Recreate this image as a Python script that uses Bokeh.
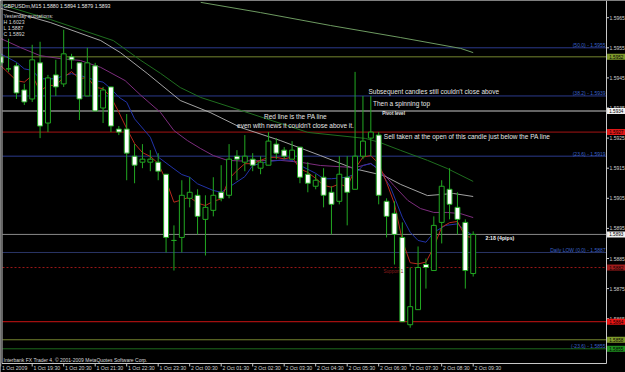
from bokeh.plotting import figure
from bokeh.models import Range1d
from bokeh.embed import file_html
from bokeh.resources import INLINE
from bokeh.core.properties import value

# ---------------- data ----------------
header_text = "GBPUSDm,M15  1.5880 1.5894 1.5879 1.5893"
yesterday_lines = ["Yesterday quotations:", "H 1.6023", "L 1.5887", "C 1.5892"]

# M15 bars, 1 Oct 18:30 .. 2 Oct 09:30
bar_open = [1.5952, 1.5948, 1.5949, 1.5941, 1.5938, 1.5950, 1.5930, 1.5946, 1.5943, 1.5952,
            1.5950, 1.5939, 1.5949, 1.5935, 1.5942, 1.5928, 1.5928, 1.5919, 1.5917, 1.5917,
            1.5917, 1.5913, 1.5891, 1.5892, 1.5905, 1.5906, 1.5898, 1.5901, 1.5907, 1.5906,
            1.5919, 1.5917, 1.5918, 1.5915, 1.5916, 1.5923, 1.5921, 1.5918, 1.5922, 1.5913,
            1.5909, 1.5912, 1.5907, 1.5904, 1.5912, 1.5908, 1.5919, 1.5925, 1.5926, 1.5904,
            1.5900, 1.5892, 1.5863, 1.5868, 1.5883, 1.5881, 1.5897, 1.5908, 1.5902, 1.5897,
            1.5880]
bar_high = [1.5953, 1.5958, 1.5950, 1.5943, 1.5956, 1.5957, 1.5946, 1.5951, 1.5961, 1.5953,
            1.5950, 1.5955, 1.5950, 1.5942, 1.5942, 1.5929, 1.5933, 1.5923, 1.5923, 1.5921,
            1.5920, 1.5913, 1.5896, 1.5911, 1.5912, 1.5908, 1.5906, 1.5912, 1.5916, 1.5923,
            1.5921, 1.5926, 1.5920, 1.5919, 1.5927, 1.5925, 1.5922, 1.5924, 1.5922, 1.5917,
            1.5913, 1.5915, 1.5909, 1.5919, 1.5919, 1.5947, 1.5939, 1.5939, 1.5927, 1.5905,
            1.5904, 1.5897, 1.5882, 1.5889, 1.5885, 1.5899, 1.5911, 1.5915, 1.5907, 1.5898,
            1.5894]
bar_low = [1.5949, 1.5947, 1.5938, 1.5936, 1.5937, 1.5925, 1.5927, 1.5939, 1.5942, 1.5948,
           1.5931, 1.5939, 1.5934, 1.5930, 1.5927, 1.5926, 1.5911, 1.5910, 1.5915, 1.5914,
           1.5911, 1.5887, 1.5881, 1.5887, 1.5902, 1.5893, 1.5886, 1.5899, 1.5904, 1.5905,
           1.5911, 1.5914, 1.5914, 1.5913, 1.5916, 1.5918, 1.5918, 1.5918, 1.5910, 1.5907,
           1.5908, 1.5902, 1.5893, 1.5903, 1.5896, 1.5908, 1.5918, 1.5919, 1.5903, 1.5892,
           1.5883, 1.5864, 1.5862, 1.5868, 1.5875, 1.5881, 1.5890, 1.5898, 1.5893, 1.5875,
           1.5879]
bar_close = [1.5950, 1.5948, 1.5940, 1.5937, 1.5951, 1.5929, 1.5945, 1.5942, 1.5953, 1.5951,
             1.5938, 1.5950, 1.5934, 1.5941, 1.5929, 1.5927, 1.5920, 1.5916, 1.5918, 1.5918,
             1.5914, 1.5892, 1.5891, 1.5906, 1.5907, 1.5899, 1.5902, 1.5906, 1.5905, 1.5918,
             1.5918, 1.5919, 1.5916, 1.5917, 1.5924, 1.5920, 1.5919, 1.5921, 1.5912, 1.5910,
             1.5911, 1.5906, 1.5903, 1.5913, 1.5907, 1.5919, 1.5924, 1.5927, 1.5906, 1.5899,
             1.5893, 1.5864, 1.5869, 1.5882, 1.5882, 1.5896, 1.5909, 1.5903, 1.5898, 1.5881,
             1.5893]

time_label_bars = [0, 4, 8, 12, 16, 20, 24, 28, 32, 36, 40, 44, 48, 52, 56, 60]
time_labels = ["1 Oct 2009", "1 Oct 19:30", "1 Oct 20:30", "1 Oct 21:30", "1 Oct 22:30",
               "1 Oct 23:30", "2 Oct 00:30", "2 Oct 01:30", "2 Oct 02:30", "2 Oct 03:30",
               "2 Oct 04:30", "2 Oct 05:30", "2 Oct 06:30", "2 Oct 07:30", "2 Oct 08:30",
               "2 Oct 09:30"]

price_ticks = [1.5965, 1.5955, 1.5945, 1.5935, 1.5925, 1.5915, 1.5905, 1.5895, 1.5885, 1.5875, 1.5865]

# moving averages (bar index, price)
ma_red_bars = [0, 2, 3, 4, 5, 6, 7, 8, 9, 10, 11, 12, 13, 14, 15, 16, 17, 18, 19, 20,
               21, 22, 23, 24, 25, 26, 27, 28, 29, 30, 31, 32, 33, 34, 35, 36, 37, 38, 39, 40,
               41, 42, 43, 44, 45, 46, 47, 48, 49, 50, 51, 52, 53, 54, 55, 56, 57, 58, 59, 60]
ma_red = [1.59491, 1.59441, 1.59436, 1.59458, 1.59406, 1.59425, 1.59425, 1.59452, 1.59471, 1.59447,
          1.59452, 1.59419, 1.59414, 1.59386, 1.59336, 1.59282, 1.59232, 1.59202, 1.59189, 1.59166,
          1.59109, 1.59037, 1.59045, 1.59054, 1.59034, 1.59026, 1.59040, 1.59048, 1.59115, 1.59142,
          1.59165, 1.59165, 1.59176, 1.59186, 1.59186, 1.59181, 1.59187, 1.59148, 1.59136, 1.59116,
          1.59093, 1.59087, 1.59098, 1.59087, 1.59148, 1.59187, 1.59192, 1.59165, 1.59103, 1.59032,
          1.58910, 1.58836, 1.58832, 1.58838, 1.58888, 1.58954, 1.58969, 1.58973, 1.58924, 1.58919]
ma_blue_bars = [0, 2, 3, 4, 5, 6, 7, 8, 9, 10, 11, 12, 13, 14, 15, 16, 17, 19, 20, 22,
                23, 24, 25, 27, 28, 29, 31, 32, 34, 36, 37, 38.5, 40, 41, 42, 44, 45, 46, 47, 48,
                49.5, 51, 52, 53, 54, 55, 56.5, 58, 59, 60]
ma_blue = [1.59530, 1.59502, 1.59480, 1.59475, 1.59447, 1.59447, 1.59447, 1.59458, 1.59464, 1.59458,
           1.59452, 1.59441, 1.59436, 1.59414, 1.59386, 1.59369, 1.59314, 1.59253, 1.59187, 1.59148,
           1.59129, 1.59120, 1.59098, 1.59076, 1.59070, 1.59087, 1.59122, 1.59159, 1.59172, 1.59178,
           1.59176, 1.59153, 1.59133, 1.59115, 1.59115, 1.59120, 1.59131, 1.59159, 1.59165, 1.59148,
           1.59087, 1.58987, 1.58937, 1.58910, 1.58904, 1.58937, 1.58960, 1.58965, 1.58943, 1.58926]
ma_purple_bars = [0, 2.5, 5, 7.6, 10.1, 12.7, 15.8, 17.8, 20.3, 22, 23.7, 25.4, 27, 28.8,
                  30.5, 35.5, 38, 40.6, 45, 47, 48.6, 49.9, 51.7, 53.3, 55, 56.7, 58.4, 60]
ma_purple = [1.59581, 1.59551, 1.59524, 1.59514, 1.59508, 1.59485, 1.59441, 1.59392, 1.59335, 1.59275,
             1.59242, 1.59215, 1.59192, 1.59176, 1.59174, 1.59176, 1.59170, 1.59159, 1.59152, 1.59166,
             1.59132, 1.59093, 1.59043, 1.59016, 1.59003, 1.59003, 1.58999, 1.58986]
ma_white_bars = [0, 6.3, 12.7, 15.2, 18.6, 22.8, 26.6, 30.5, 35.5, 40.6, 44.8, 48.6, 50.8, 54.2, 57.5, 60]
ma_white = [1.59681, 1.59634, 1.59574, 1.59534, 1.59465, 1.59375, 1.59335, 1.59285, 1.59242, 1.59192,
            1.59149, 1.59126, 1.59096, 1.59059, 1.59066, 1.59056]
ma_green_bars = [0, 6.3, 14.3, 17.8, 20.3, 22.8, 25.4, 30.5, 39, 46.3, 48.2, 50.8, 54.2, 56.7, 60]
ma_green = [1.59694, 1.59644, 1.59574, 1.59508, 1.59465, 1.59418, 1.59385, 1.59342, 1.59269, 1.59249,
            1.59235, 1.59209, 1.59176, 1.59149, 1.59106]
ma_long_bars = [25.4, 33, 41.9, 50.8, 58.4, 60]
ma_long = [1.59701, 1.59667, 1.59624, 1.59584, 1.59548, 1.59534]

level_prices = [1.5955, 1.5952, 1.5939, 1.5934, 1.5927, 1.5919, 1.5893, 1.5887, 1.5882, 1.5864, 1.5858, 1.5855]
box_prices = [1.5952, 1.5934, 1.5927, 1.5893, 1.5882, 1.5864, 1.5858, 1.5855]
fib_names = ["(50.0) - 1.5955", "(38.2) - 1.5939", "(23.6) - 1.5919", "Daily LOW (0.0) - 1.5887", "(-23.6) - 1.5855"]
fib_prices = [1.5955, 1.5939, 1.5919, 1.5887, 1.5855]

notes = ["Subsequent candles still couldn't close above", "Then a spinning top",
         "Red line is the PA line", "even with news it couldn't close above it.",
         "Sell taken at the open of this candle just below the PA line"]
copyright_text = "Interbank FX Trader 4, \u00a9 2001-2009 MetaQuotes Software Corp."

# ---------------- layout helpers (pixel -> data) ----------------
W, H = 625, 372
BAR_PX, X0_PX = 7.875, 0.2
REF_P, REF_PY, PX_PER_P = 1.5955, 47.3, 30100.0
RIGHT_PX, BOTTOM_PX = 606, 363


def X(px):
    return (px - X0_PX) / BAR_PX


def Y(py):
    return REF_P + (REF_PY - py) / PX_PER_P


FONT = value("Liberation Sans")
WICK = "#22a822"

p = figure(width=W, height=H, x_range=Range1d(X(0), X(W)), y_range=Range1d(Y(H), Y(0)),
           output_backend="svg", toolbar_location=None, min_border=0,
           x_axis_location=None, y_axis_location=None,
           background_fill_color="black", border_fill_color="black", outline_line_color=None)
p.grid.visible = False

# horizontal level lines
level_colors = ["#2b3a8c", "#75852f", "#2b3a8c", "#c8c8c8", "#a51414", "#2b3a8c",
                "#8a8a8a", "#2a3566", "#9a1818", "#cc1414", "#75852f", "#1d6a1d"]
level_dash = ["solid"] * 8 + ["2 2"] + ["solid"] * 3
for lp, lc, ld in zip(level_prices, level_colors, level_dash):
    p.segment(x0=[X(2)], y0=[lp], x1=[X(RIGHT_PX)], y1=[lp], line_color=lc, line_width=1, line_dash=ld)

# moving averages
p.line(ma_long_bars, ma_long, line_color="#6d9a60", line_width=1)
p.line(ma_green_bars, ma_green, line_color="#1f6e1f", line_width=1)
p.line(ma_white_bars, ma_white, line_color="#b4b4b4", line_width=0.9)
p.line(ma_purple_bars, ma_purple, line_color="#7e2d7e", line_width=1)
p.line(ma_blue_bars, ma_blue, line_color="#2233a8", line_width=1)
p.line(ma_red_bars, ma_red, line_color="#b8281c", line_width=1)

# candles
idx = list(range(len(bar_open)))
p.segment(x0=idx, y0=bar_low, x1=idx, y1=bar_high, line_color=WICK, line_width=1)
tops = [max(o, c) for o, c in zip(bar_open, bar_close)]
bots = [min(o, c) for o, c in zip(bar_open, bar_close)]
fills = ["black" if c >= o else "white" for o, c in zip(bar_open, bar_close)]
p.vbar(x=idx, top=tops, bottom=bots, width=0.62, fill_color=fills, line_color=WICK, line_width=1)

# frame
FRAME = "#c8c8c8"
p.segment(x0=[X(RIGHT_PX)], y0=[Y(0)], x1=[X(RIGHT_PX)], y1=[Y(BOTTOM_PX)], line_color=FRAME, line_width=1)
p.segment(x0=[X(1.5)], y0=[Y(BOTTOM_PX)], x1=[X(RIGHT_PX)], y1=[Y(BOTTOM_PX)], line_color=FRAME, line_width=1)
p.segment(x0=[X(1.5)], y0=[Y(0)], x1=[X(1.5)], y1=[Y(BOTTOM_PX)], line_color=FRAME, line_width=1)

# price axis
p.segment(x0=[X(RIGHT_PX)] * len(price_ticks), y0=price_ticks, x1=[X(RIGHT_PX + 2.5)] * len(price_ticks),
          y1=price_ticks, line_color=FRAME, line_width=1)
p.text(x=[X(609)] * len(price_ticks), y=price_ticks, text=["%.4f" % t for t in price_ticks],
       text_font=FONT, text_font_size="5px", text_color="#d0d0d0", text_baseline="middle", text_align="left")

# time axis
tx = time_label_bars
p.segment(x0=tx, y0=[Y(BOTTOM_PX)] * len(tx), x1=tx, y1=[Y(BOTTOM_PX + 3)] * len(tx), line_color=FRAME, line_width=1)
p.text(x=[t + 1.2 / BAR_PX for t in tx], y=[Y(367.5)] * len(tx), text=time_labels,
       text_font=FONT, text_font_size="5.2px", text_color="#d0d0d0", text_baseline="middle", text_align="left")

# price label boxes
box_colors = ["#7f9a2c", "#f0f0f0", "#e01818", "#f0f0f0", "#a01c1c", "#ee1414", "#7f9a2c", "#1f8f1f"]
p.rect(x=[X(615.8)] * len(box_prices), y=box_prices, width=18.5, height=6, width_units="screen",
       height_units="screen", fill_color=box_colors, line_color=None)
p.text(x=[X(615.8)] * len(box_prices), y=box_prices, text=["%.4f" % b for b in box_prices],
       text_font=FONT, text_font_size="4.6px", text_color="black", text_baseline="middle", text_align="center")

# fibonacci labels
p.text(x=[X(605)] * len(fib_prices), y=[fp + 2.6 / PX_PER_P for fp in fib_prices], text=fib_names,
       text_font=FONT, text_font_size="5px", text_color="#3a62c8", text_baseline="middle", text_align="right")

# header texts
p.text(x=[X(3)], y=[Y(5)], text=[header_text], text_font=FONT, text_font_size="5.2px",
       text_color="#e8e8e8", text_baseline="middle", text_align="left")
p.text(x=[X(3)] * 4, y=[Y(15.7), Y(21.2), Y(27), Y(33)], text=yesterday_lines, text_font=FONT,
       text_font_size="5.2px", text_color="#d8d8d8", text_baseline="middle", text_align="left")
p.text(x=[X(3)], y=[Y(359)], text=[copyright_text], text_font=FONT, text_font_size="5px",
       text_color="#d8d8d8", text_baseline="middle", text_align="left")

# annotation notes
p.text(x=[X(368), X(372.5)], y=[Y(90.7), Y(102.7)], text=notes[:2], text_font=FONT,
       text_font_size="6.5px", text_color="#e6e6e6", text_baseline="middle", text_align="left")
p.text(x=[X(295), X(295)], y=[Y(116), Y(125.3)], text=notes[2:4], text_font=FONT,
       text_font_size="6.5px", text_color="#e6e6e6", text_baseline="middle", text_align="center")
p.text(x=[X(383.3)], y=[Y(136)], text=[notes[4]], text_font=FONT,
       text_font_size="6.5px", text_color="#e6e6e6", text_baseline="middle", text_align="left")
p.text(x=[X(381.7)], y=[Y(113.3)], text=["Pivot level"], text_font=FONT, text_font_size="4.6px",
       text_font_style="bold", text_color="#e6e6e6", text_baseline="middle", text_align="left")
p.text(x=[X(485)], y=[Y(237.7)], text=["2:18 (4pips)"], text_font=FONT, text_font_size="5.2px",
       text_font_style="bold", text_color="#f0f0f0", text_baseline="middle", text_align="left")
p.text(x=[X(383)], y=[Y(270.7)], text=["Support 1"], text_font=FONT, text_font_size="4.6px",
       text_color="#8a1c1c", text_baseline="middle", text_align="left")

open("out.html", "w").write(file_html(p, INLINE))
